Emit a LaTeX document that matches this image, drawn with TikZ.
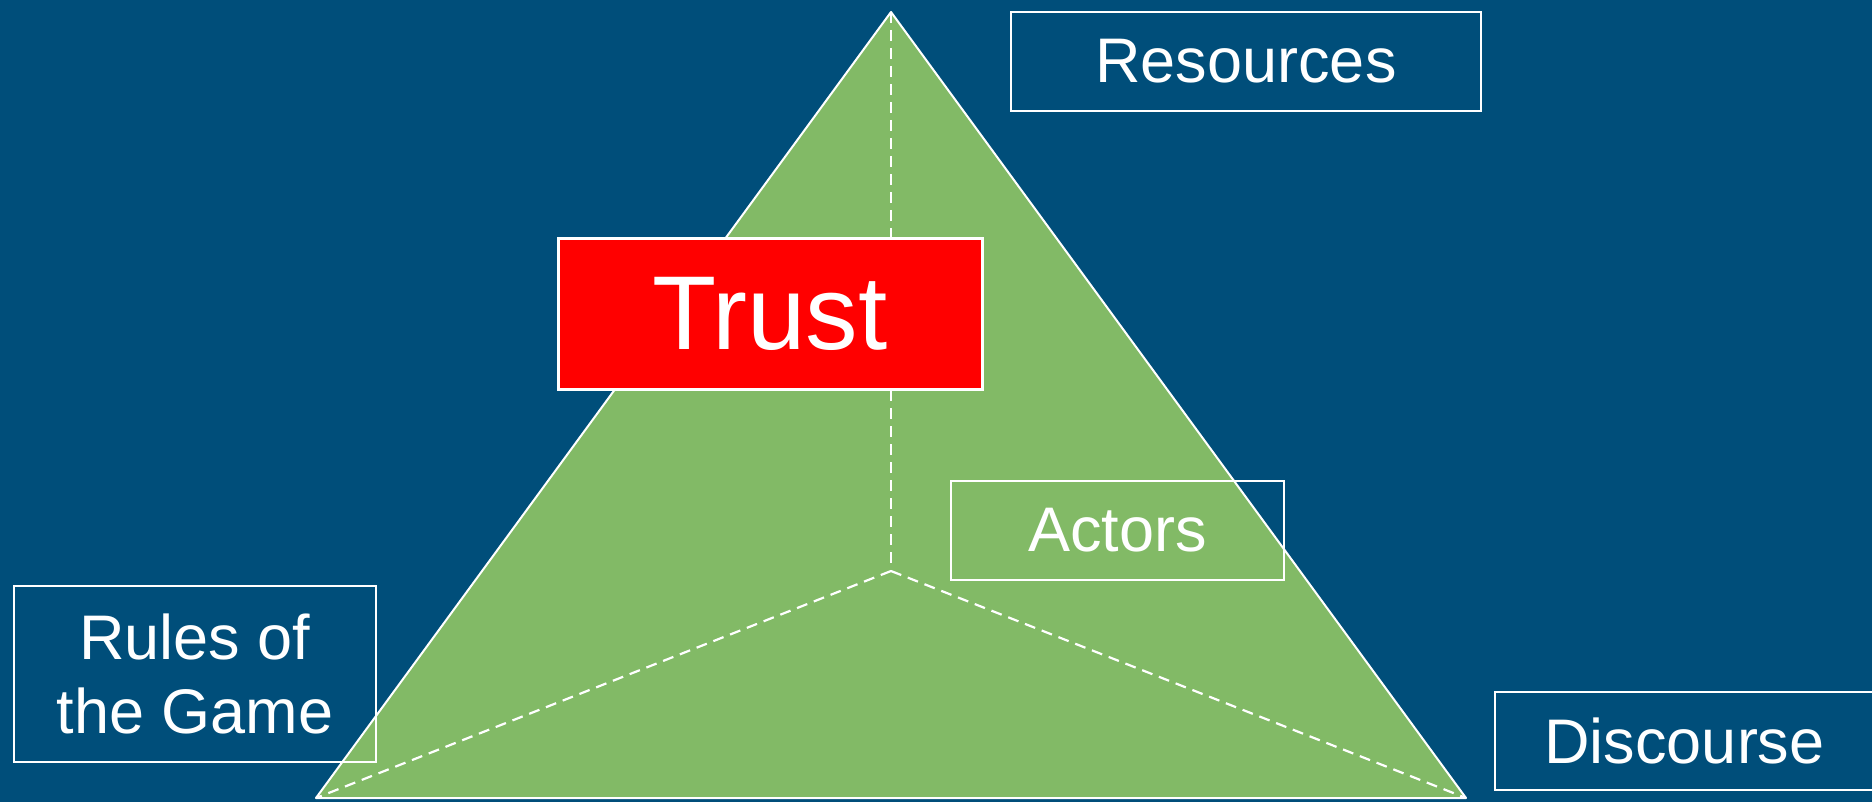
\documentclass[tikz,border=0pt]{standalone}
\usepackage{fontspec}
\setmainfont{Liberation Sans}
\definecolor{bgblue}{RGB}{0,78,122}
\definecolor{trigreen}{RGB}{130,186,102}
\definecolor{trustred}{RGB}{255,0,0}
\begin{document}
\begin{tikzpicture}[x=1pt,y=-1pt,
  labelbox/.style={draw=white, line width=2.5pt, rectangle, inner sep=0pt,
    text=white, font=\fontsize{63}{74}\selectfont, align=center},
  edge/.style={draw=white, line width=2pt, line join=round},
  hidden/.style={draw=white, line width=2.2pt, dash pattern=on 11pt off 7pt}]
\useasboundingbox (0,0) rectangle (1872,802);
\fill[bgblue] (0,0) rectangle (1872,802);
% triangle corners
\coordinate (apex) at (891,12);
\coordinate (bl) at (316,798);
\coordinate (br) at (1466,798);
\coordinate (inner) at (891,571);
\filldraw[fill=trigreen, edge] (apex) -- (br) -- (bl) -- cycle;
\draw[hidden] (apex) -- (inner);
\draw[hidden] (inner) -- (bl);
\draw[hidden] (inner) -- (br);
% labels
\node[labelbox, minimum width=470pt, minimum height=99pt] (res) at (1246,61.5) {Resources};
\node[labelbox, fill=trustred, line width=3pt, minimum width=424pt, minimum height=150pt,
  font=\fontsize{105}{120}\selectfont] (trust) at (770,314) {Trust};
\node[labelbox, minimum width=333pt, minimum height=99pt] (act) at (1117.5,530.5) {Actors};
\node[labelbox, minimum width=362pt, minimum height=176pt] (rules) at (195,674) {Rules of\\the Game};
\node[labelbox, minimum width=379pt, minimum height=98pt] (disc) at (1684.5,741) {Discourse};
\end{tikzpicture}
\end{document}
